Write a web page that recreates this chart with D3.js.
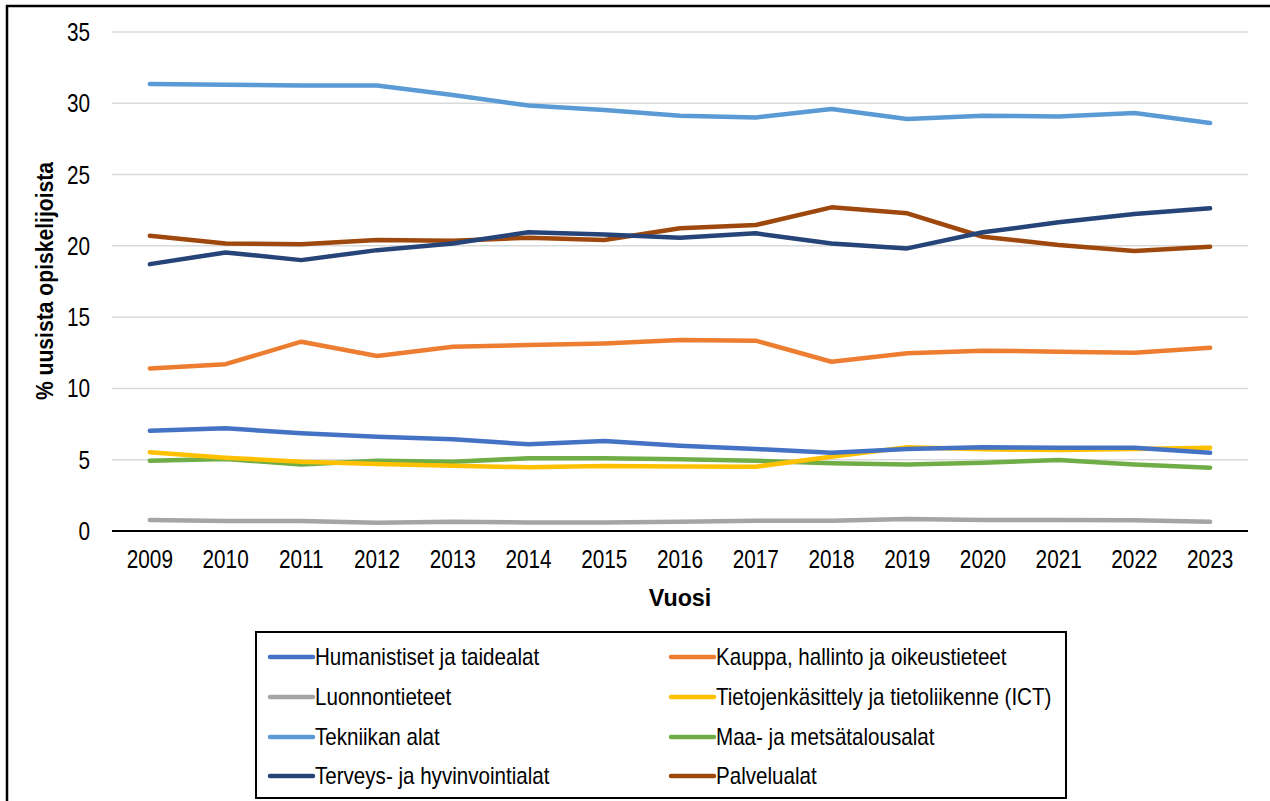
<!DOCTYPE html>
<html><head><meta charset="utf-8">
<script src="https://cdn.jsdelivr.net/npm/d3@7"></script>
<style>
body{margin:0;background:#fff;}
svg{display:block;}
text{font-family:"Liberation Sans",Arial,sans-serif;fill:#000;}
</style></head><body>
<svg id="c" width="1270" height="801"></svg>
<script>
const years = [2009,2010,2011,2012,2013,2014,2015,2016,2017,2018,2019,2020,2021,2022,2023];
const yTicks = [0,5,10,15,20,25,30,35];
const seriesNames = ["Humanistiset ja taidealat","Kauppa, hallinto ja oikeustieteet","Luonnontieteet","Tietojenkäsittely ja tietoliikenne (ICT)","Tekniikan alat","Maa- ja metsätalousalat","Terveys- ja hyvinvointialat","Palvelualat"];
const seriesColors = ["#4472C4","#ED7D31","#A5A5A5","#FFC000","#5B9BD5","#70AD47","#264478","#9E480E"];
const humanistiset = [7.03,7.2,6.85,6.61,6.43,6.08,6.31,5.98,5.75,5.49,5.75,5.87,5.84,5.84,5.49];
const kauppa = [11.4,11.7,13.28,12.27,12.93,13.04,13.16,13.39,13.35,11.87,12.46,12.65,12.58,12.5,12.85];
const luonnontieteet = [0.77,0.7,0.7,0.58,0.65,0.6,0.6,0.65,0.72,0.72,0.84,0.77,0.77,0.75,0.65];
const ict = [5.52,5.14,4.86,4.7,4.58,4.47,4.56,4.52,4.51,5.21,5.87,5.73,5.68,5.75,5.84];
const tekniikka = [31.36,31.3,31.25,31.24,30.58,29.84,29.53,29.13,29.0,29.6,28.9,29.13,29.08,29.32,28.62];
const maaMetsa = [4.93,5.05,4.67,4.93,4.86,5.1,5.1,5.03,4.93,4.75,4.67,4.79,4.98,4.67,4.44];
const terveys = [18.72,19.54,19.0,19.7,20.17,20.95,20.8,20.57,20.88,20.17,19.82,20.95,21.65,22.23,22.63];
const palvelu = [20.71,20.17,20.12,20.41,20.36,20.57,20.41,21.23,21.46,22.7,22.28,20.64,20.06,19.64,19.94];
const seriesValues = [humanistiset,kauppa,luonnontieteet,ict,tekniikka,maaMetsa,terveys,palvelu];
const drawOrder = [2,5,3,0,1,7,6,4];

const svg = d3.select("#c");
function narrow(sel, sx){
  sel.each(function(){
    const t = d3.select(this);
    const tx = +t.attr("x")||0, ty = +t.attr("y")||0;
    const prev = t.attr("transform")||"";
    t.attr("x",0).attr("y",0).attr("transform",`${prev} translate(${tx},${ty}) scale(${sx},1)`);
  });
}
// outer frame
svg.append("line").attr("x1",7).attr("x2",7).attr("y1",5).attr("y2",801).attr("stroke","#000").attr("stroke-width",2.5);
svg.append("line").attr("x1",6).attr("x2",1270).attr("y1",6).attr("y2",6).attr("stroke","#000").attr("stroke-width",2.5);

const L=112, R=1248, T=32, B=531;
const x = d3.scaleBand().domain(years).range([L,R]);
const y = d3.scaleLinear().domain([0,35]).range([B,T]);

svg.append("g").selectAll("line").data(yTicks.filter(d=>d>0)).join("line")
  .attr("x1",L).attr("x2",R).attr("y1",d=>y(d)).attr("y2",d=>y(d))
  .attr("stroke","#D9D9D9").attr("stroke-width",1.5);

const yAxis = d3.axisLeft(y).tickValues(yTicks).tickSize(0).tickPadding(0);
const gy = svg.append("g").attr("transform",`translate(${L-22},0)`).call(yAxis);
gy.attr("font-family",null).attr("font-size",null);
gy.select(".domain").remove();
gy.selectAll("text").attr("font-size",25).attr("dy","0.34em").attr("x",0);
narrow(gy.selectAll("text"),0.83);

const xAxis = d3.axisBottom(x).tickSize(0).tickPadding(0);
const gx = svg.append("g").attr("transform",`translate(0,${B})`).call(xAxis);
gx.attr("font-family",null).attr("font-size",null);
gx.select(".domain").attr("stroke","#000").attr("stroke-width",2).attr("d",`M${L},0H${R}`);
gx.selectAll("text").attr("font-size",25).attr("y",37).attr("dy",0);
narrow(gx.selectAll("text"),0.83);

const line = d3.line().x((d,i)=>x(years[i])+x.bandwidth()/2).y(d=>y(d));
drawOrder.forEach(k=>{
  svg.append("path").datum(seriesValues[k]).attr("d",line)
    .attr("fill","none").attr("stroke",seriesColors[k]).attr("stroke-width",4.5)
    .attr("stroke-linecap","round").attr("stroke-linejoin","round");
});

svg.append("text").attr("transform",`translate(53,281) rotate(-90) scale(0.88,1)`)
  .attr("text-anchor","middle").attr("font-size",24).attr("font-weight","bold").text("% uusista opiskelijoista");
svg.append("text").attr("transform",`translate(${(L+R)/2},606) scale(0.97,1)`).attr("text-anchor","middle")
  .attr("font-size",24).attr("font-weight","bold").text("Vuosi");

const lg = svg.append("g");
lg.append("rect").attr("x",256).attr("y",632).attr("width",810).attr("height",166)
  .attr("fill","#fff").attr("stroke","#000").attr("stroke-width",2);
const colX = [270,671], rowY = [657,697,737,776];
seriesNames.forEach((n,i)=>{
  const cx = colX[i%2], cy = rowY[Math.floor(i/2)];
  lg.append("line").attr("x1",cx).attr("x2",cx+43).attr("y1",cy).attr("y2",cy)
    .attr("stroke",seriesColors[i]).attr("stroke-width",4.5).attr("stroke-linecap","round");
  lg.append("text").attr("transform",`translate(${cx+45},${cy+8}) scale(0.895,1)`).attr("font-size",23).text(n);
});
</script>
</body></html>
